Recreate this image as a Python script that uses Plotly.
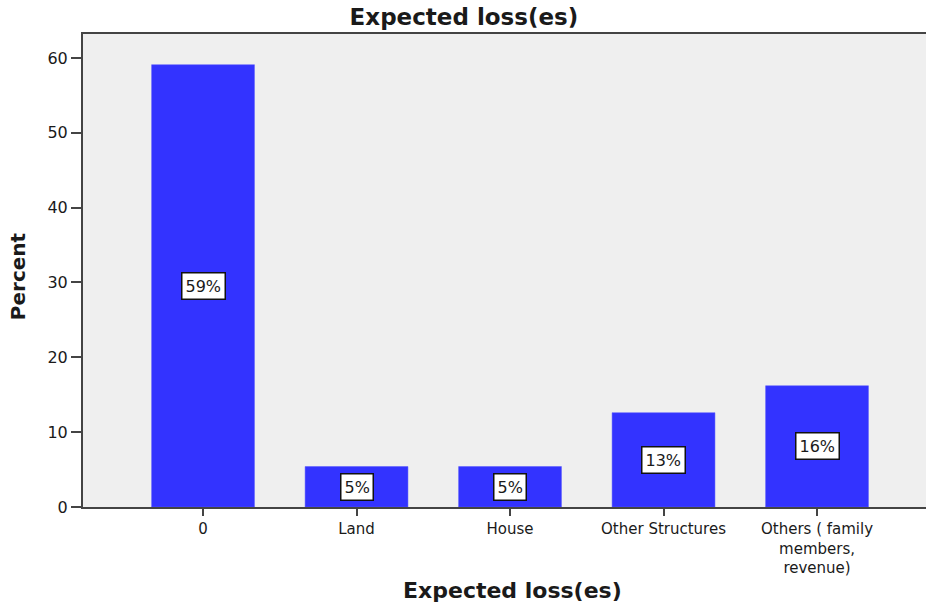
import plotly.graph_objects as go

# Expected loss categories and their percentages
categories = ["0", "Land", "House", "Other Structures", "Others ( family<br>members,<br>revenue)"]
percents = [59.1, 5.4, 5.4, 12.6, 16.2]
y_ticks = [0, 10, 20, 30, 40, 50, 60]

FONT = "DejaVu Sans, Verdana, sans-serif"
INK = "#1a1a1a"
x_pos = list(range(len(categories)))

fig = go.Figure(
    go.Bar(
        x=x_pos,
        y=percents,
        width=0.67,
        marker=dict(color="#3333ff", line=dict(color="#5555ff", width=0.5)),
        hoverinfo="skip",
    )
)

# Boxed percentage labels at the middle of each bar
for xi, v in zip(x_pos, percents):
    fig.add_annotation(
        x=xi, y=v / 2, text=f"{v:.0f}%", showarrow=False,
        font=dict(family=FONT, size=16, color=INK),
        bgcolor="white", bordercolor="#111111", borderwidth=1.5, borderpad=3,
    )

# Axis titles
fig.add_annotation(
    x=0.5, xref="paper", xshift=8, y=0, yref="paper", yanchor="middle", yshift=-83,
    text="<b>Expected loss(es)</b>", showarrow=False,
    font=dict(family=FONT, size=22, color=INK),
)
fig.add_annotation(
    x=0, xref="paper", xanchor="center", xshift=-65, y=0.488, yref="paper",
    text="<b>Percent</b>", textangle=-90, showarrow=False,
    font=dict(family=FONT, size=20, color=INK),
)

fig.update_layout(
    width=926, height=605,
    margin=dict(l=83, r=0, t=34, b=98),
    paper_bgcolor="white",
    plot_bgcolor="#efefef",
    showlegend=False,
    title=dict(
        text="<b>Expected loss(es)</b>", x=0.501, xanchor="center", xref="container",
        y=0.972, yanchor="middle", yref="container",
        font=dict(family=FONT, size=23, color=INK),
    ),
    xaxis=dict(
        range=[-0.782, 4.71], automargin=False,
        tickvals=x_pos, ticktext=categories,
        ticks="outside", ticklen=7, tickwidth=2, tickcolor="#444444",
        showline=True, linecolor="#444444", linewidth=2, mirror=True,
        showgrid=False, zeroline=False,
        tickfont=dict(family=FONT, size=15, color=INK),
    ),
    yaxis=dict(
        range=[0, 63.2], automargin=False,
        tickvals=y_ticks,
        ticks="outside", ticklen=10, tickwidth=2, tickcolor="#444444",
        showline=True, linecolor="#444444", linewidth=2, mirror=True,
        showgrid=False, zeroline=False,
        tickfont=dict(family=FONT, size=16, color=INK),
    ),
)

fig.write_html("out.html")
